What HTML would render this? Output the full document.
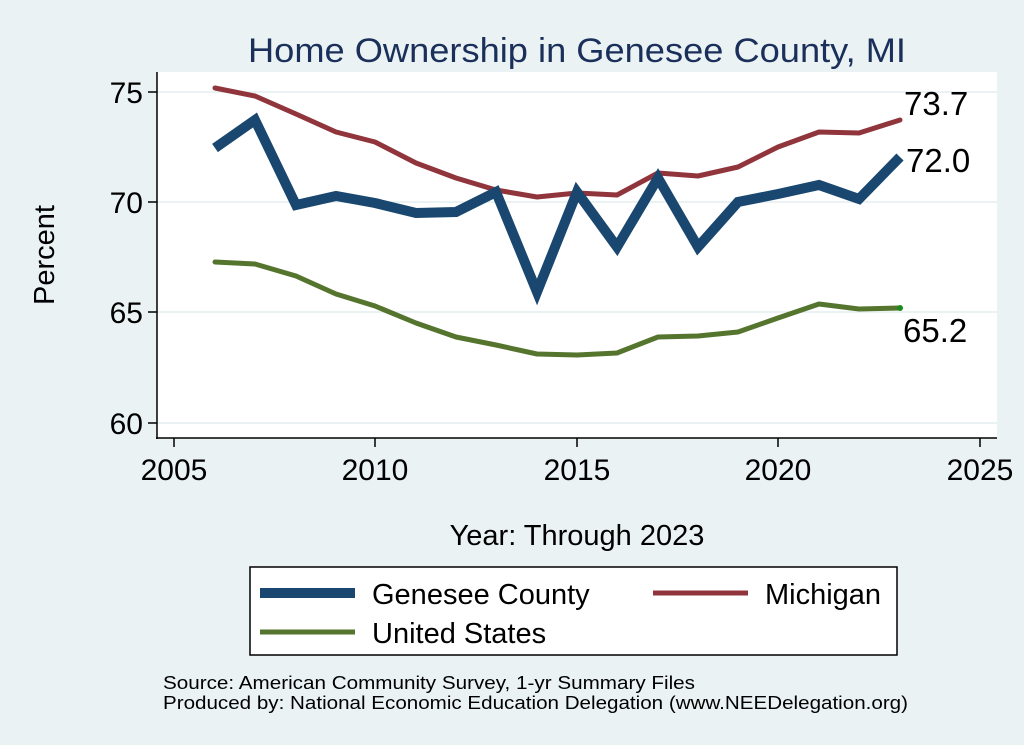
<!DOCTYPE html>
<html><head><style>
body{margin:0;background:#eaf2f3;}
svg{display:block;font-family:"Liberation Sans",Arial,sans-serif;}
</style></head><body>
<svg width="1024" height="745" viewBox="0 0 1024 745">
<rect width="1024" height="745" fill="#eaf2f3"/>
<text x="248" y="62" font-size="34" fill="#1a2f5a" textLength="658" lengthAdjust="spacingAndGlyphs">Home Ownership in Genesee County, MI</text>
<rect x="157" y="72" width="840" height="366" fill="#fff"/>
<g stroke="#eaf2f3" stroke-width="2">
<line x1="157" y1="92" x2="997" y2="92"/><line x1="157" y1="202" x2="997" y2="202"/>
<line x1="157" y1="312" x2="997" y2="312"/><line x1="157" y1="423" x2="997" y2="423"/>
</g>
<g stroke="#000" stroke-width="1.5" fill="none">
<line x1="157" y1="72" x2="157" y2="439"/><line x1="156" y1="438" x2="997" y2="438"/>
<line x1="148" y1="92" x2="157" y2="92"/><line x1="148" y1="202" x2="157" y2="202"/>
<line x1="148" y1="312" x2="157" y2="312"/><line x1="148" y1="423" x2="157" y2="423"/>
<line x1="174" y1="438" x2="174" y2="447"/><line x1="375" y1="438" x2="375" y2="447"/>
<line x1="577" y1="438" x2="577" y2="447"/><line x1="778" y1="438" x2="778" y2="447"/>
<line x1="980" y1="438" x2="980" y2="447"/>
</g>
<g font-size="30" fill="#000" text-anchor="end">
<text x="143" y="103">75</text><text x="143" y="213">70</text><text x="143" y="323">65</text><text x="143" y="434">60</text>
</g>
<g font-size="30" fill="#000" text-anchor="middle">
<text x="174" y="480">2005</text><text x="375" y="480">2010</text><text x="577" y="480">2015</text><text x="778" y="480">2020</text><text x="980" y="480">2025</text>
</g>
<text x="54" y="255" font-size="29" text-anchor="middle" transform="rotate(-90 54 255)">Percent</text>
<text x="577" y="545" font-size="29" text-anchor="middle">Year: Through 2023</text>
<polyline fill="none" stroke="#90353b" stroke-width="5" stroke-linejoin="round" stroke-linecap="round" points="215,88 255,96 296,114 336,132 375,142 416,163 456,178 496,190 537,197 577,193 617,195 658,173 698,176 738,167 778,147 819,132 859,133 900,120"/>
<polyline fill="none" stroke="#55752f" stroke-width="5" stroke-linejoin="round" stroke-linecap="round" points="215,262 255,264 296,276 336,294 375,306 416,323 456,337 496,345 537,354 577,355 617,353 658,337 698,336 738,332 778,318 819,304 859,309 900,308"/>
<circle cx="900" cy="308" r="3" fill="#1a8a1a"/>
<polyline fill="none" stroke="#1a476f" stroke-width="10" stroke-linejoin="miter" points="215,148 255,120 296,205 336,196 375,203 416,213 456,212 496,192 537,292 577,192 617,247 658,178 698,247 738,202 778,194 819,185 859,199 900,157"/>
<g font-size="33" fill="#000">
<text x="904" y="115">73.7</text><text x="906" y="172">72.0</text><text x="903" y="342">65.2</text>
</g>
<rect x="250" y="567" width="647" height="88" fill="#fff" stroke="#000" stroke-width="1.5"/>
<line x1="260" y1="593" x2="355" y2="593" stroke="#1a476f" stroke-width="10"/>
<text x="372" y="604" font-size="29">Genesee County</text>
<line x1="653" y1="593" x2="748" y2="593" stroke="#90353b" stroke-width="5"/>
<text x="765" y="604" font-size="29">Michigan</text>
<line x1="260" y1="632" x2="355" y2="632" stroke="#55752f" stroke-width="5"/>
<text x="372" y="643" font-size="29">United States</text>
<text x="163" y="689" font-size="18" textLength="532" lengthAdjust="spacingAndGlyphs">Source: American Community Survey, 1-yr Summary Files</text>
<text x="163" y="709" font-size="18" textLength="745" lengthAdjust="spacingAndGlyphs">Produced by: National Economic Education Delegation (www.NEEDelegation.org)</text>
</svg>
</body></html>
